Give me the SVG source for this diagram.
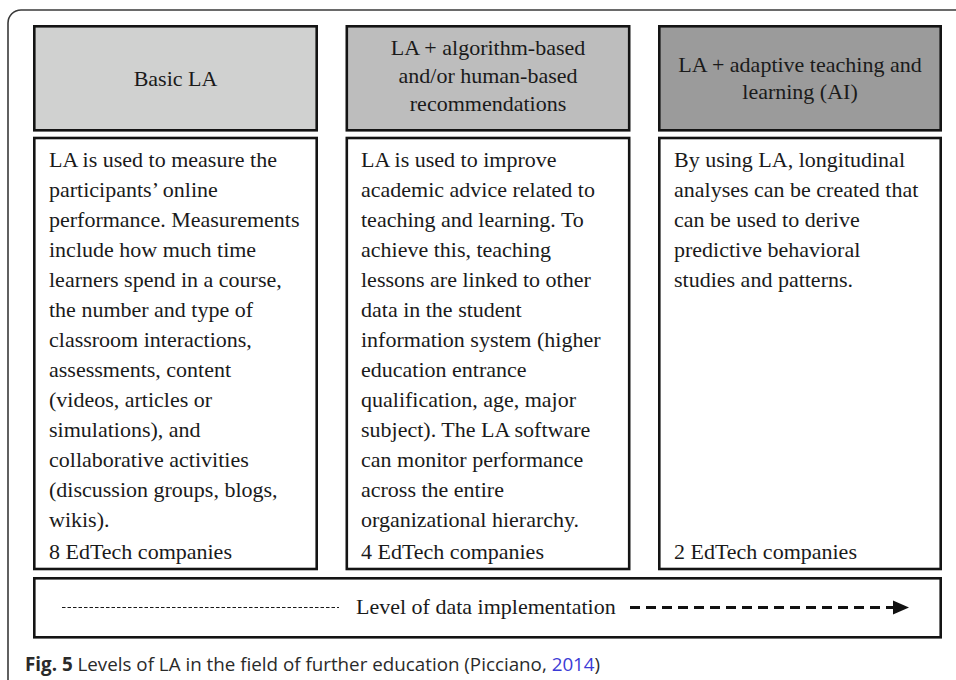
<svg xmlns="http://www.w3.org/2000/svg" width="956" height="680" viewBox="0 0 956 680">
<style>
.box{stroke:#141414;stroke-width:2.6;}
.t{font-family:"Liberation Serif","Times New Roman",serif;font-size:22px;fill:#1a1a1a;}
.c{text-anchor:middle;}
.cap{font-family:"Open Sans","Noto Sans",sans-serif;font-size:18.8px;fill:#2a2a2a;}
</style>
<rect width="956" height="680" fill="#ffffff"/>
<path d="M956,10 H21 A13,13 0 0 0 8,23 V680" fill="none" stroke="#3a3a3a" stroke-width="1.6"/>

<g id="col1-header">
<rect class="box" x="34.3" y="26.3" width="282.4" height="104" fill="#d0d1d0"/>
<text class="t c" x="175.5" y="86">Basic LA</text>
</g>
<g id="col2-header">
<rect class="box" x="346.8" y="26.3" width="282.4" height="104" fill="#bdbdbd"/>
<text class="t c" x="488" y="55">LA + algorithm-based</text>
<text class="t c" x="488" y="83">and/or human-based</text>
<text class="t c" x="488" y="111">recommendations</text>
</g>
<g id="col3-header">
<rect class="box" x="659.3" y="26.3" width="281.4" height="104" fill="#9b9b9b"/>
<text class="t c" x="800" y="72">LA + adaptive teaching and</text>
<text class="t c" x="800" y="99">learning (AI)</text>
</g>

<g id="col1-body">
<rect class="box" x="34.3" y="138" width="282.4" height="431" fill="#ffffff"/>
<text class="t" x="49" y="167">LA is used to measure the</text>
<text class="t" x="49" y="197">participants’ online</text>
<text class="t" x="49" y="227">performance. Measurements</text>
<text class="t" x="49" y="257">include how much time</text>
<text class="t" x="49" y="287">learners spend in a course,</text>
<text class="t" x="49" y="317">the number and type of</text>
<text class="t" x="49" y="347">classroom interactions,</text>
<text class="t" x="49" y="377">assessments, content</text>
<text class="t" x="49" y="407">(videos, articles or</text>
<text class="t" x="49" y="437">simulations), and</text>
<text class="t" x="49" y="467">collaborative activities</text>
<text class="t" x="49" y="497">(discussion groups, blogs,</text>
<text class="t" x="49" y="527">wikis).</text>
<text class="t" x="49" y="559">8 EdTech companies</text>
</g>
<g id="col2-body">
<rect class="box" x="346.8" y="138" width="282.4" height="431" fill="#ffffff"/>
<text class="t" x="361" y="167">LA is used to improve</text>
<text class="t" x="361" y="197">academic advice related to</text>
<text class="t" x="361" y="227">teaching and learning. To</text>
<text class="t" x="361" y="257">achieve this, teaching</text>
<text class="t" x="361" y="287">lessons are linked to other</text>
<text class="t" x="361" y="317">data in the student</text>
<text class="t" x="361" y="347">information system (higher</text>
<text class="t" x="361" y="377">education entrance</text>
<text class="t" x="361" y="407">qualification, age, major</text>
<text class="t" x="361" y="437">subject). The LA software</text>
<text class="t" x="361" y="467">can monitor performance</text>
<text class="t" x="361" y="497">across the entire</text>
<text class="t" x="361" y="527">organizational hierarchy.</text>
<text class="t" x="361" y="559">4 EdTech companies</text>
</g>
<g id="col3-body">
<rect class="box" x="659.3" y="138" width="281.4" height="431" fill="#ffffff"/>
<text class="t" x="674" y="167">By using LA, longitudinal</text>
<text class="t" x="674" y="197">analyses can be created that</text>
<text class="t" x="674" y="227">can be used to derive</text>
<text class="t" x="674" y="257">predictive behavioral</text>
<text class="t" x="674" y="287">studies and patterns.</text>
<text class="t" x="674" y="559">2 EdTech companies</text>
</g>

<g id="level-bar">
<rect class="box" x="34.3" y="578.3" width="906.4" height="59" fill="#ffffff"/>
<text class="t" x="356" y="614">Level of data implementation</text>
</g>
<g id="connectors">
<line x1="62" y1="607.5" x2="339" y2="607.5" stroke="#1a1a1a" stroke-width="1" stroke-dasharray="3.5 2"/>
<line x1="630" y1="607.5" x2="895" y2="607.5" stroke="#111" stroke-width="3" stroke-dasharray="10 6"/>
<polygon points="893,600.5 909,607.5 893,614.5" fill="#111"/>
</g>

<text class="cap" x="25" y="671"><tspan font-weight="bold">Fig. 5</tspan> Levels of LA in the field of further education (Picciano, <tspan fill="#3b3bd6">2014</tspan>)</text>
</svg>
